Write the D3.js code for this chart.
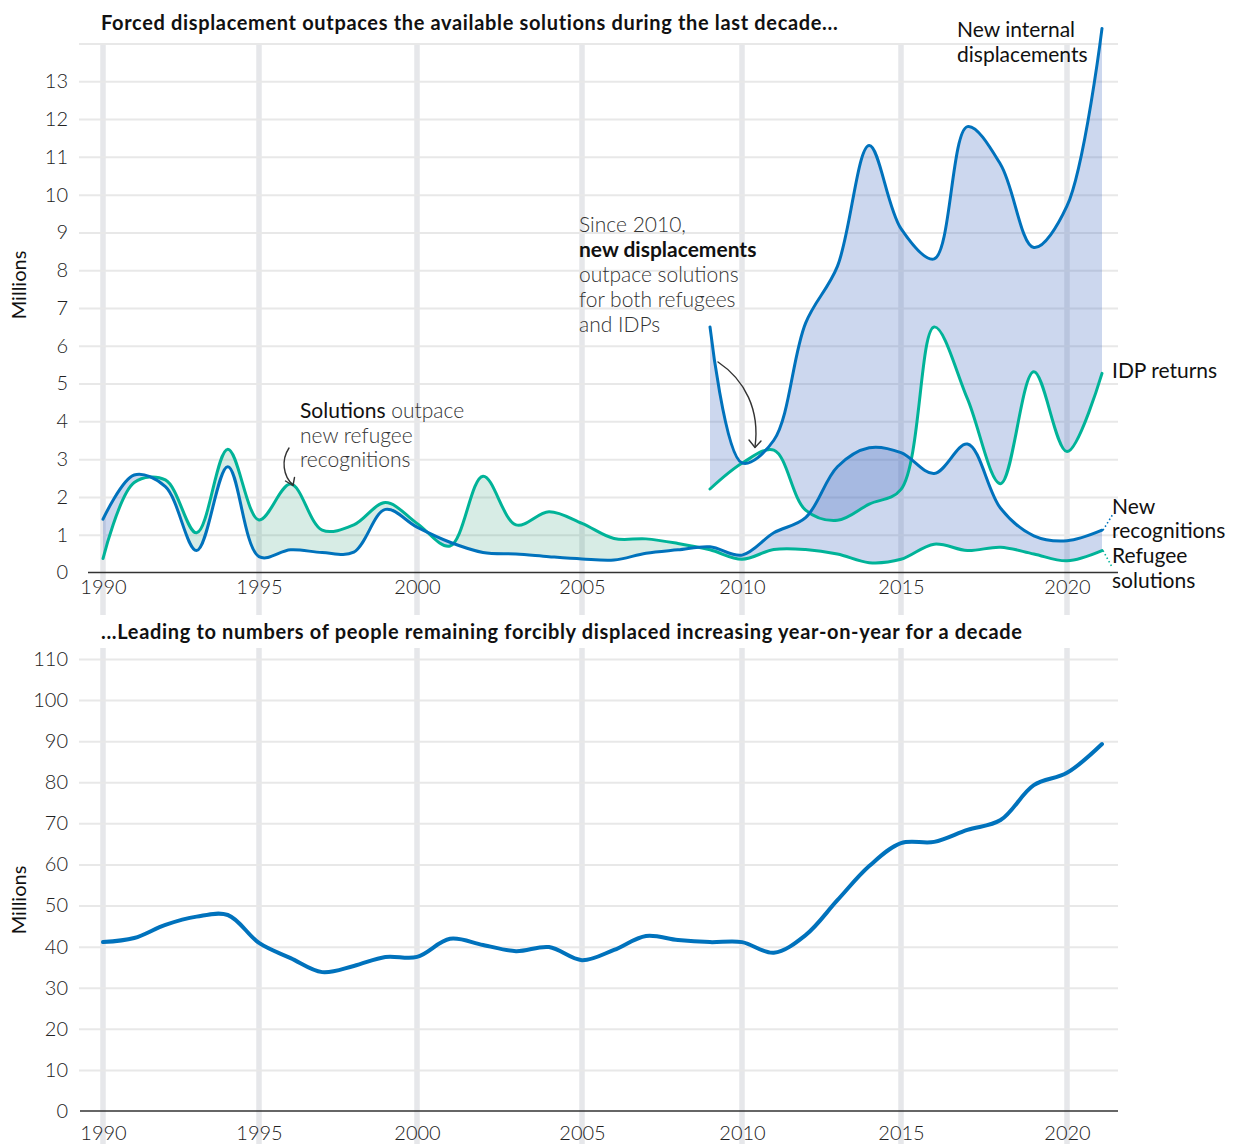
<!DOCTYPE html>
<html>
<head>
<meta charset="utf-8">
<script src="https://cdn.jsdelivr.net/npm/d3@7"></script>
<style>
  body { margin: 0; background: #fff; }
  svg { display: block; font-family: Lato, "Open Sans", sans-serif; }
</style>
</head>
<body>
<svg id="chart" width="1237" height="1144"></svg>
<script>
// ---------------- DATA ----------------
const years = [1990,1991,1992,1993,1994,1995,1996,1997,1998,1999,2000,2001,2002,2003,2004,2005,
               2006,2007,2008,2009,2010,2011,2012,2013,2014,2015,2016,2017,2018,2019,2020,2021];
const newRecognitions = [1.41,2.58,2.27,0.58,2.8,0.42,0.6,0.53,0.54,1.67,1.2,0.8,0.53,0.49,0.42,0.36,
                         0.33,0.51,0.6,0.68,0.46,1.05,1.45,2.8,3.3,3.17,2.62,3.4,1.7,0.97,0.84,1.12];
const refugeeSolutions = [0.37,2.38,2.45,1.05,3.26,1.39,2.34,1.12,1.26,1.85,1.3,0.7,2.55,1.26,1.61,1.3,
                          0.9,0.89,0.77,0.6,0.35,0.61,0.61,0.49,0.26,0.35,0.75,0.58,0.67,0.49,0.31,0.58];
const idpYears = [2009,2010,2011,2012,2013,2014,2015,2016,2017,2018,2019,2020,2021];
const newInternalDisplacements = [6.5,2.9,3.5,6.6,8.1,11.3,9.1,8.3,11.8,10.8,8.6,9.7,14.4];
const idpReturns = [2.21,2.89,3.24,1.65,1.38,1.81,2.2,6.5,4.6,2.35,5.31,3.2,5.27];
const totalDisplaced = [41.1,42.1,45.3,47.3,47.7,40.9,37.2,33.8,35.3,37.5,37.5,41.9,40.4,38.9,39.9,36.7,
                        39.2,42.6,41.6,41.1,41.1,38.5,42.8,51.3,59.6,65.2,65.5,68.4,70.8,79.3,82.3,89.3];
const xTickYears = [1990,1995,2000,2005,2010,2015,2020];
const topTicks = [0,1,2,3,4,5,6,7,8,9,10,11,12,13];
const topGrid = [1,2,3,4,5,6,7,8,9,10,11,12,13,14];
const bottomTicks = [0,10,20,30,40,50,60,70,80,90,100,110];
const bottomGrid = [10,20,30,40,50,60,70,80,90,100,110];
const titleTop = "Forced displacement outpaces the available solutions during the last decade...";
const titleBottom = "...Leading to numbers of people remaining forcibly displaced increasing year-on-year for a decade";

// ---------------- STYLE ----------------
const BLUE = "#0072bc", TEAL = "#00b398";
const BLUE_FILL = "rgb(51,95,187)", BLUE_OP = 0.25;
const GREEN_FILL = "rgb(20,140,100)", GREEN_OP = 0.17;
const GRID = "#e6e7ea";
const GX0 = 79, GX1 = 1118;
const FS = 21;

const svg = d3.select("#chart");

const x = d3.scaleLinear()
  .domain([1990,1995,2000,2005,2010,2015,2020,2021])
  .range([103,259,417,582,742,901,1067,1102]);

const yTop = d3.scaleLinear().domain([0,14]).range([572.5,43.5]);
const yBot = d3.scaleLinear().domain([0,110]).range([1111,659]);

function bands(g, y1, y2) {
  g.selectAll(null).data(xTickYears).join("line")
    .attr("x1", d => x(d)).attr("x2", d => x(d))
    .attr("y1", y1).attr("y2", y2)
    .attr("stroke", GRID).attr("stroke-width", 5.5);
}

function panel(y, gridVals, tickVals, baseX0, bandTop, bandBottom, xPad) {
  const g = svg.append("g");
  bands(g, bandTop, bandBottom);
  const grid = g.append("g").attr("transform", `translate(${GX0},0)`)
    .call(d3.axisLeft(y).tickValues(gridVals).tickSize(-(GX1 - GX0)).tickFormat(""));
  grid.select(".domain").remove();
  grid.selectAll("line").attr("stroke", "#e8e8e8").attr("stroke-width", 2);
  const ya = g.append("g").attr("transform", "translate(68,0)")
    .call(d3.axisLeft(y).tickValues(tickVals).tickSize(0).tickPadding(0));
  ya.select(".domain").remove();
  ya.selectAll("text").attr("font-size", 20).attr("font-weight", 300).attr("fill", "#222")
    .attr("font-family", "Lato, sans-serif");
  g.append("line").attr("x1", baseX0).attr("x2", GX1)
    .attr("y1", y(0)).attr("y2", y(0)).attr("stroke", "#333").attr("stroke-width", 1.5);
  const xa = g.append("g").attr("transform", `translate(0,${y(0)})`)
    .call(d3.axisBottom(x).tickValues(xTickYears).tickFormat(d3.format("d")).tickSize(0).tickPadding(xPad));
  xa.select(".domain").remove();
  xa.selectAll("text").attr("font-size", 20).attr("font-weight", 300).attr("fill", "#222")
    .attr("font-family", "Lato, sans-serif");
  return g;
}

const curve = d3.curveCatmullRom;

function difference(g, data, y, id) {
  const ax = d => x(d.yr);
  g.append("clipPath").attr("id", id + "-above").append("path")
    .attr("d", d3.area().curve(curve).x(ax).y0(0).y1(d => y(d.a))(data));
  g.append("clipPath").attr("id", id + "-below").append("path")
    .attr("d", d3.area().curve(curve).x(ax).y0(1144).y1(d => y(d.a))(data));
  const between = d3.area().curve(curve).x(ax).y0(d => y(d.a)).y1(d => y(d.b));
  g.append("path").attr("clip-path", `url(#${id}-above)`).attr("d", between(data))
    .attr("fill", BLUE_FILL).attr("fill-opacity", BLUE_OP);
  g.append("path").attr("clip-path", `url(#${id}-below)`).attr("d", between(data))
    .attr("fill", GREEN_FILL).attr("fill-opacity", GREEN_OP);
}

function drawLine(g, xs, vs, y, color, w) {
  const data = xs.map((yr, i) => ({yr, v: vs[i]}));
  g.append("path").attr("d", d3.line().curve(curve).x(d => x(d.yr)).y(d => y(d.v))(data))
    .attr("fill", "none").attr("stroke", color).attr("stroke-width", w)
    .attr("stroke-linecap", "round").attr("stroke-linejoin", "round");
}

function fitTitle(t, xp, yp, target) {
  const el = svg.append("text").attr("x", xp).attr("y", yp).text(t)
    .attr("font-size", 20).attr("font-weight", 700).attr("fill", "#111");
  const len = el.node().getComputedTextLength();
  el.attr("letter-spacing", Math.max(0, (target - len) / (t.length - 1)));
  return el;
}

// ---------------- TOP PANEL ----------------
const gTop = panel(yTop, topGrid, topTicks, 88, 43.5, 615, 7);

const refData = years.map((yr, i) => ({yr, a: refugeeSolutions[i], b: newRecognitions[i]}));
const idpData = idpYears.map((yr, i) => ({yr, a: idpReturns[i], b: newInternalDisplacements[i]}));
difference(gTop, refData, yTop, "ref");
difference(gTop, idpData, yTop, "idp");

drawLine(gTop, years, refugeeSolutions, yTop, TEAL, 3);
drawLine(gTop, idpYears, idpReturns, yTop, TEAL, 3);
drawLine(gTop, years, newRecognitions, yTop, BLUE, 3);
drawLine(gTop, idpYears, newInternalDisplacements, yTop, BLUE, 3);

fitTitle(titleTop, 101, 30, 737);

function yLabel(cy) {
  svg.append("text").attr("transform", `translate(25.5,${cy}) rotate(-90)`)
    .attr("text-anchor", "middle").attr("font-size", 20).attr("fill", "#111").text("Millions");
}
yLabel(285);

const lab = (xp, yp, t) => svg.append("text").attr("x", xp).attr("y", yp)
  .attr("font-size", FS).attr("fill", "#111").text(t);
lab(957, 37, "New internal");
lab(957, 62, "displacements");
lab(1112, 378, "IDP returns");
lab(1112, 514, "New");
lab(1112, 538, "recognitions");
lab(1112, 563, "Refugee");
lab(1112, 588, "solutions");

const recEnd = yTop(newRecognitions[newRecognitions.length - 1]);
const solEnd = yTop(refugeeSolutions[refugeeSolutions.length - 1]);
const xEnd = x(years[years.length - 1]);
svg.append("line").attr("x1", xEnd + 1).attr("y1", recEnd).attr("x2", xEnd + 11).attr("y2", 514)
  .attr("stroke", BLUE).attr("stroke-width", 1.6).attr("stroke-dasharray", "1.5,2.5");
svg.append("line").attr("x1", xEnd + 1).attr("y1", solEnd).attr("x2", xEnd + 10).attr("y2", 567)
  .attr("stroke", TEAL).attr("stroke-width", 1.6).attr("stroke-dasharray", "1.5,2.5");

const a1 = svg.append("text").attr("font-size", FS).attr("fill", "#333");
a1.append("tspan").attr("x", 300).attr("y", 418).attr("font-weight", 400).attr("fill", "#111").text("Solutions");
a1.append("tspan").attr("font-weight", 300).text(" outpace");
a1.append("tspan").attr("x", 300).attr("y", 443).attr("font-weight", 300).text("new refugee");
a1.append("tspan").attr("x", 300).attr("y", 467).attr("font-weight", 300).text("recognitions");

const a2 = svg.append("text").attr("font-size", FS).attr("fill", "#333");
a2.append("tspan").attr("x", 579).attr("y", 232).attr("font-weight", 300).text("Since 2010,");
a2.append("tspan").attr("x", 579).attr("y", 257).attr("font-weight", 700).attr("fill", "#111").text("new displacements");
a2.append("tspan").attr("x", 579).attr("y", 282).attr("font-weight", 300).text("outpace solutions");
a2.append("tspan").attr("x", 579).attr("y", 307).attr("font-weight", 300).text("for both refugees");
a2.append("tspan").attr("x", 579).attr("y", 332).attr("font-weight", 300).text("and IDPs");

const arrowStyle = p => p.attr("fill", "none").attr("stroke", "#333").attr("stroke-width", 1.4)
  .attr("stroke-linecap", "round").attr("stroke-linejoin", "round");
arrowStyle(svg.append("path").attr("d", "M718,362 C745,380 760,410 755,447"));
arrowStyle(svg.append("path").attr("d", "M749,440 L755,447.5 L761,441"));
arrowStyle(svg.append("path").attr("d", "M289,448 C281,460 283,476 293,485"));
arrowStyle(svg.append("path").attr("d", "M285.5,481 L293,485.5 L294.5,477.5"));

// ---------------- BOTTOM PANEL ----------------
const gBot = panel(yBot, bottomGrid, bottomTicks, 80, 648, 1144, 15);
drawLine(gBot, years, totalDisplaced, yBot, BLUE, 4);

fitTitle(titleBottom, 101, 639, 921);
yLabel(900);
</script>
</body>
</html>
